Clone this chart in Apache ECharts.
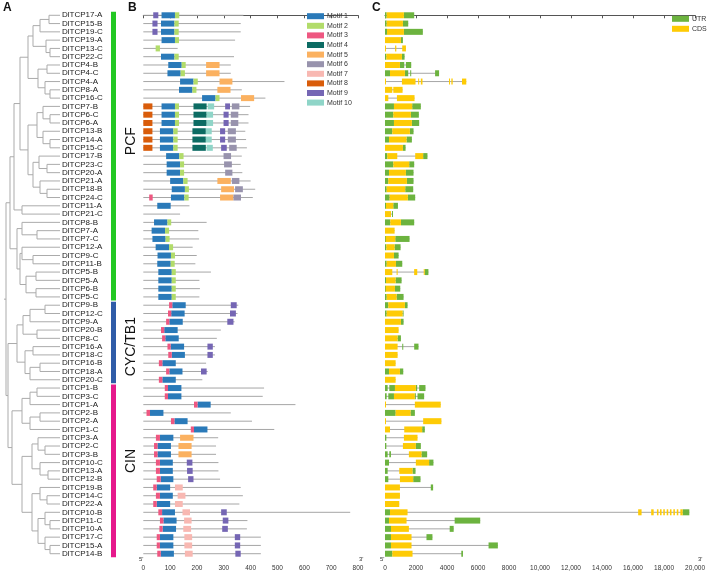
<!DOCTYPE html>
<html>
<head>
<meta charset="utf-8">
<script src="https://cdn.jsdelivr.net/npm/echarts@6/dist/echarts.min.js"></script>
<style>
html,body{margin:0;padding:0;background:#fff;}
#chart{width:708px;height:574px;}
</style>
</head>
<body>
<div id="chart"></div>
<script>
// ---------------- DATA ----------------
const genes = ['DlTCP17-A','DlTCP15-B','DlTCP19-C','DlTCP19-A','DlTCP13-C','DlTCP22-C','DlTCP4-B','DlTCP4-C','DlTCP4-A','DlTCP8-A','DlTCP16-C','DlTCP7-B','DlTCP6-C','DlTCP6-A','DlTCP13-B','DlTCP14-A','DlTCP15-C','DlTCP17-B','DlTCP23-C','DlTCP20-A','DlTCP21-A','DlTCP18-B','DlTCP24-C','DlTCP11-A','DlTCP21-C','DlTCP8-B','DlTCP7-A','DlTCP7-C','DlTCP12-A','DlTCP9-C','DlTCP11-B','DlTCP5-B','DlTCP5-A','DlTCP6-B','DlTCP5-C','DlTCP9-B','DlTCP12-C','DlTCP9-A','DlTCP20-B','DlTCP8-C','DlTCP16-A','DlTCP18-C','DlTCP16-B','DlTCP18-A','DlTCP20-C','DlTCP1-B','DlTCP3-C','DlTCP1-A','DlTCP2-B','DlTCP2-A','DlTCP1-C','DlTCP3-A','DlTCP2-C','DlTCP3-B','DlTCP10-C','DlTCP13-A','DlTCP12-B','DlTCP19-B','DlTCP14-C','DlTCP22-A','DlTCP10-B','DlTCP11-C','DlTCP10-A','DlTCP17-C','DlTCP15-A','DlTCP14-B'];

const groupNames = ['PCF','CYC/TB1','CIN'];
const groupFirstRow = [0,35,45];
const groupLastRow = [34,44,65];
const groupLabelRow = [15.2,40,53.8];

// protein length (aa)
const proteinLength = [373,363,363,342,128,338,326,326,526,367,455,398,392,392,380,383,386,367,363,369,400,417,408,172,137,236,205,208,184,199,194,252,209,211,209,354,351,340,289,274,267,267,234,240,220,450,445,567,326,405,488,279,271,271,280,280,286,363,371,358,771,388,386,438,438,438];

const motifNames = ['Motif 1','Motif 2','Motif 3','Motif 4','Motif 5','Motif 6','Motif 7','Motif 8','Motif 9','Motif 10'];

// motif hits per gene: [motif number, start aa, end aa]
const motifHits = [
 [[9,37,56],[1,68,118],[2,118,134]],
 [[9,34,53],[1,66,116],[2,116,132]],
 [[9,34,53],[1,66,116],[2,116,132]],
 [[1,68,118],[2,118,133]],
 [[2,46,62]],
 [[1,66,116],[2,116,132]],
 [[1,93,143],[2,143,158],[5,234,284]],
 [[1,90,139],[2,139,155],[5,234,284]],
 [[1,137,187],[2,187,203],[5,284,332]],
 [[1,133,183],[2,183,198],[5,276,325]],
 [[1,219,269],[2,269,284],[5,364,413]],
 [[8,0,34],[1,68,118],[2,118,133],[4,187,236],[10,240,264],[9,305,323],[6,330,358]],
 [[8,0,34],[1,68,118],[2,118,133],[4,187,236],[10,236,260],[9,299,318],[6,326,354]],
 [[8,0,34],[1,68,118],[2,118,133],[4,187,236],[10,236,260],[9,299,318],[6,326,354]],
 [[8,0,34],[1,62,112],[2,112,128],[4,183,233],[10,233,255],[9,286,305],[6,315,345]],
 [[8,0,34],[1,62,112],[2,112,128],[4,183,233],[10,233,255],[9,286,305],[6,315,345]],
 [[8,0,34],[1,62,112],[2,112,128],[4,183,233],[10,236,259],[9,290,311],[6,320,348]],
 [[1,85,134],[2,134,150],[6,299,327]],
 [[1,87,137],[2,137,152],[6,301,330]],
 [[1,87,137],[2,137,152],[6,305,332]],
 [[1,100,149],[2,149,165],[5,276,326],[6,330,358]],
 [[1,106,155],[2,155,170],[5,290,338],[6,342,371]],
 [[3,22,35],[1,103,153],[2,153,169],[5,286,336],[6,336,364]],
 [[1,52,102]],
 [],
 [[1,40,90],[2,90,104]],
 [[1,31,81],[2,81,96]],
 [[1,34,83],[2,83,98]],
 [[1,46,96],[2,96,111]],
 [[1,53,103],[2,103,118]],
 [[1,52,102],[2,102,117]],
 [[1,56,106],[2,106,121]],
 [[1,56,106],[2,106,121]],
 [[1,56,106],[2,106,121]],
 [[1,56,106],[2,106,121]],
 [[3,96,108],[1,108,158],[9,326,348]],
 [[3,92,104],[1,104,154],[9,323,345]],
 [[3,85,97],[1,97,147],[9,313,336]],
 [[3,66,78],[1,78,128]],
 [[3,70,82],[1,82,132]],
 [[3,90,102],[1,102,152],[9,239,259]],
 [[3,93,106],[1,106,155],[9,239,259]],
 [[3,58,71],[1,71,121]],
 [[3,85,97],[1,97,146],[9,215,236]],
 [[3,58,71],[1,71,121]],
 [[3,80,92],[1,92,142]],
 [[3,80,92],[1,92,142]],
 [[3,189,202],[1,202,251]],
 [[3,12,25],[1,25,75]],
 [[3,103,116],[1,116,165]],
 [[3,177,189],[1,189,239]],
 [[3,47,62],[1,62,112],[5,137,187]],
 [[3,40,53],[1,53,103],[5,131,180]],
 [[3,40,53],[1,53,103],[5,131,180]],
 [[3,47,62],[1,62,110],[9,162,183]],
 [[3,47,62],[1,62,110],[9,163,184]],
 [[3,50,65],[1,65,112],[9,167,187]],
 [[3,37,50],[1,50,100],[7,118,147]],
 [[3,47,62],[1,62,110],[7,128,157]],
 [[3,37,50],[1,50,100],[7,118,147]],
 [[3,56,70],[1,70,118],[7,146,174],[9,290,311]],
 [[3,62,75],[1,75,124],[7,152,180],[9,296,317]],
 [[3,60,72],[1,72,122],[7,149,178],[9,294,315]],
 [[3,50,62],[1,62,112],[7,153,182],[9,341,361]],
 [[3,50,62],[1,62,112],[7,153,182],[9,341,361]],
 [[3,52,65],[1,65,114],[7,155,184],[9,343,363]]
];

// gene structure per gene: [type (U = UTR, C = CDS), start bp, end bp]
const geneFeatures = [
 [['U',0,107],['C',107,1219],['U',1219,1883]],
 [['U',0,107],['C',107,1155],['U',1155,1498]],
 [['U',0,128],['C',128,1220],['U',1220,2440]],
 [['C',0,1027],['U',1027,1155]],
 [['C',0,50],['C',650,730],['C',1110,1350]],
 [['U',0,86],['C',86,1091],['U',1091,1262]],
 [['C',0,963],['U',963,1241],['U',1348,1690]],
 [['U',0,321],['C',321,1284],['U',1284,1498],['U',1626,1670],['U',3231,3488]],
 [['C',0,43],['C',1091,1969],['C',2140,2204],['C',2311,2418],['C',4130,4194],['C',4280,4366],['C',4965,5243]],
 [['C',0,470],['C',535,1134]],
 [['C',0,214],['C',770,1905]],
 [['U',0,578],['C',578,1755],['U',1755,2311]],
 [['U',0,535],['C',535,1669],['U',1669,2183]],
 [['U',0,578],['C',578,1733],['U',1733,2204]],
 [['U',0,470],['C',470,1605],['U',1605,1840]],
 [['U',0,257],['C',257,1391],['U',1391,1733]],
 [['C',0,1155],['U',1155,1327]],
 [['U',0,150],['C',150,792],['C',1948,2461],['U',2461,2739]],
 [['U',0,535],['C',535,1562],['U',1562,1883]],
 [['U',0,257],['C',257,1348],['U',1348,1840]],
 [['U',0,214],['C',214,1412],['U',1412,1840]],
 [['U',0,107],['C',107,1305],['U',1305,1819]],
 [['U',0,300],['C',300,1476],['U',1476,1947]],
 [['U',0,64],['C',64,535],['U',535,835]],
 [['C',0,385],['U',450,470]],
 [['U',0,342],['C',342,1027],['U',1027,1883]],
 [['C',0,620]],
 [['U',0,43],['C',43,663],['U',663,1584]],
 [['U',0,86],['C',86,620],['U',620,1006]],
 [['C',0,578],['U',578,877]],
 [['U',0,107],['C',107,706],['U',706,1113]],
 [['C',0,470],['C',750,810],['C',1880,2080],['C',2500,2560],['U',2560,2800]],
 [['U',0,64],['C',64,685],['U',685,1070]],
 [['U',0,43],['C',43,642],['U',642,984]],
 [['U',0,107],['C',107,749],['U',749,1198]],
 [['U',0,214],['C',214,1284],['U',1284,1455]],
 [['U',0,107],['C',107,1134],['U',1134,1177]],
 [['C',0,1027],['U',1027,1198]],
 [['C',0,877]],
 [['C',0,813],['U',813,1027]],
 [['C',0,813],['U',1113,1177],['U',1883,2161]],
 [['C',0,813]],
 [['C',0,685]],
 [['U',0,257],['C',257,963],['U',963,1177]],
 [['C',0,685]],
 [['U',0,171],['U',278,642],['C',642,1990],['U',1990,2076],['U',2204,2611]],
 [['U',0,107],['U',214,578],['C',578,1926],['U',1926,1990],['U',2097,2525]],
 [['C',0,25],['C',1926,3595]],
 [['U',0,685],['C',685,1648],['U',1648,1926]],
 [['C',0,25],['C',2461,3638]],
 [['C',0,321],['C',1241,2397],['U',2397,2568]],
 [['U',0,86],['C',1220,2097]],
 [['U',0,86],['C',1156,1990],['U',1990,2311]],
 [['U',0,171],['U',278,385],['C',1541,2354],['U',2354,2718]],
 [['U',0,257],['C',1990,2846],['U',2846,3124]],
 [['U',0,171],['C',920,1776],['U',1776,1969]],
 [['U',0,214],['C',963,1819],['U',1819,2290]],
 [['C',0,963],['U',2953,3103]],
 [['C',0,963]],
 [['C',0,920]],
 [['U',0,321],['C',321,1455],['C',16330,16550],['C',17170,17330],['C',17540,17640],['C',17740,17840],['C',17950,18050],['C',18170,18270],['C',18380,18480],['C',18600,18700],['C',18820,18920],['C',19050,19200],['U',19200,19630]],
 [['U',0,257],['C',257,1391],['U',4494,6141]],
 [['U',0,385],['C',385,1541],['U',4173,4430]],
 [['U',0,385],['C',385,1712],['U',2675,3060]],
 [['U',0,385],['C',385,1712],['U',6680,7280]],
 [['U',0,471],['C',471,1776],['U',4922,5030]]
];

// dendrogram: [node depth, child, child, ...]; leaves are gene codes (prefix DlTCP)
const treeTipDepth = 60;
const tree =
 [6,
  [10,
   [14,
    [20,
     [28,
      [33,[40,[49,'17-A','15-B'],'19-C'],[46,'19-A',[50,'13-C','22-C']]],
      [38,[47,'4-B','4-C'],[45,'4-A',[50,'8-A','16-C']]]],
     [28,
      [37,[43,'7-B',[50,'6-C','6-A']],[43,'13-B',[50,'14-A','15-C']]],
      [33,[39,'17-B',[47,'23-C','20-A']],[40,'21-A',[47,'18-B','24-C']]]]],
    [22,'11-A','21-C']],
   [17,
    [22,'8-B',[37,'7-A','7-C']],
    [20,[22,'12-A',[33,'9-C','11-B']],[26,[36,'5-B','5-A'],[36,'6-B','5-C']]]]],
  [8,
   [17,
    [23,[30,[45,'9-B','12-C'],'9-A'],[37,'20-B','8-C']],
    [25,[33,'16-A','18-C'],[30,[40,'16-B','18-A'],'20-C']]],
   [12,
    [22,[30,[37,'1-B','3-C'],'1-A'],[30,[40,'2-B','2-A'],'1-C']],
    [22,
     [32,[38,'3-A',[45,'2-C','3-B']],[40,'10-C',[48,'13-A','12-B']]],
     [32,[40,'19-B',[47,'14-C','22-A']],
      [38,[45,'10-B',[50,'11-C','10-A']],[45,'17-C',[50,'15-A','14-B']]]]]]]];

// ---------------- STYLE ----------------
const motifColors = ['#2a7ab9','#b2dc6a','#ee5781','#0c6b63','#fbb160','#9893ad','#f8b8b2','#d95c0a','#7566b4','#8fd5c8'];
const utrColor = '#6cb33f', cdsColor = '#fecb05';
const groupColors = ['#22c822','#2f5ca8','#e6198c'];
const lineGray = '#a6a6a6';
const FONT = '"Liberation Sans", Arial, sans-serif';

// ---------------- BUILD ----------------
const N = genes.length;
const rowOf = {};
genes.forEach((g, i) => rowOf[g.replace('DlTCP','')] = i);

const treeSegs = [];
function layout(node) {
  if (typeof node === 'string') return {x: treeTipDepth, y: rowOf[node]};
  const h = node[0];
  const kids = node.slice(1).map(layout);
  const y0 = kids[0].y, y1 = kids[kids.length - 1].y;
  treeSegs.push([h, y0, h, y1]);
  kids.forEach(k => treeSegs.push([h, k.y, k.x, k.y]));
  return {x: h, y: (y0 + y1) / 2};
}
const rootPos = layout(tree);
treeSegs.push([rootPos.x - 2, rootPos.y, rootPos.x, rootPos.y]);

const proteinData = proteinLength.map((L, i) => [0, L, i]);
const motifSeriesData = motifNames.map(() => []);
motifHits.forEach((hits, i) => hits.forEach(h => motifSeriesData[h[0] - 1].push([h[1], h[2], i])));
const intronData = geneFeatures.map((f, i) => [f[0][1], f[f.length - 1][2], i]);
const utrData = [], cdsData = [];
geneFeatures.forEach((f, i) => f.forEach(s => (s[0] === 'U' ? utrData : cdsData).push([s[1], s[2], i])));
const groupData = groupNames.map((g, k) => [groupFirstRow[k], groupLastRow[k], k, groupLabelRow[k]]);

function lineRender(params, api) {
  const a = api.coord([api.value(0), api.value(2)]);
  const b = api.coord([api.value(1), api.value(2)]);
  return {type: 'line', shape: {x1: a[0], y1: a[1], x2: b[0], y2: b[1]},
          style: {stroke: lineGray, lineWidth: 1}};
}
function boxRender(h) {
  return function (params, api) {
    const a = api.coord([api.value(0), api.value(2)]);
    const b = api.coord([api.value(1), api.value(2)]);
    return {type: 'rect', shape: {x: a[0], y: a[1] - h / 2, width: Math.max(b[0] - a[0], 1), height: h},
            style: {fill: api.visual('color')}};
  };
}

const chart = echarts.init(document.getElementById('chart'), null, {renderer: 'canvas', width: 708, height: 574});

const gridTop = 7, gridH = 555;
const series = [];

// tree
series.push({
  type: 'custom', name: 'tree', xAxisIndex: 0, yAxisIndex: 0, silent: true,
  data: treeSegs, encode: {x: [0, 2], y: [1, 3]},
  renderItem(params, api) {
    const a = api.coord([api.value(0), api.value(1)]);
    const b = api.coord([api.value(2), api.value(3)]);
    return {type: 'line', shape: {x1: a[0], y1: a[1], x2: b[0], y2: b[1]},
            style: {stroke: '#ababab', lineWidth: 1}};
  }
});
// gene labels
series.push({
  type: 'custom', name: 'labels', xAxisIndex: 0, yAxisIndex: 0, silent: true,
  data: genes.map((g, i) => [treeTipDepth, i]), encode: {x: 0, y: 1},
  renderItem(params, api) {
    const p = api.coord([api.value(0), api.value(1)]);
    return {type: 'text', x: p[0] + 2, y: p[1],
            style: {text: genes[params.dataIndex], fill: '#1a1a1a', font: '8px ' + FONT,
                    align: 'left', verticalAlign: 'middle'}};
  }
});
// group bars & labels
series.push({
  type: 'custom', name: 'groups', xAxisIndex: 0, yAxisIndex: 0, silent: true,
  data: groupData, encode: {y: [0, 1]},
  renderItem(params, api) {
    const k = api.value(2);
    const a = api.coord([111, api.value(0) - 0.42]);
    const b = api.coord([116, api.value(1) + 0.42]);
    const t = api.coord([131, api.value(3)]);
    return {type: 'group', children: [
      {type: 'rect', shape: {x: a[0], y: a[1], width: b[0] - a[0], height: b[1] - a[1]},
       style: {fill: groupColors[k]}},
      {type: 'text', x: t[0], y: t[1], rotation: Math.PI / 2,
       style: {text: groupNames[k], fill: '#111', font: '14px ' + FONT, align: 'center', verticalAlign: 'middle'}}
    ]};
  }
});
// protein lines
series.push({
  type: 'custom', name: 'protein', xAxisIndex: 1, yAxisIndex: 1, silent: true,
  data: proteinData, encode: {x: [0, 1], y: 2}, renderItem: lineRender
});
motifNames.forEach((m, k) => {
  series.push({
    type: 'custom', name: m, xAxisIndex: 1, yAxisIndex: 1, silent: true,
    itemStyle: {color: motifColors[k]},
    data: motifSeriesData[k], encode: {x: [0, 1], y: 2}, renderItem: boxRender(6)
  });
});
// gene structure
series.push({
  type: 'custom', name: 'intron', xAxisIndex: 2, yAxisIndex: 2, silent: true,
  data: intronData, encode: {x: [0, 1], y: 2}, renderItem: lineRender
});
series.push({
  type: 'custom', name: 'UTR', xAxisIndex: 2, yAxisIndex: 2, silent: true,
  itemStyle: {color: utrColor}, data: utrData, encode: {x: [0, 1], y: 2}, renderItem: boxRender(6)
});
series.push({
  type: 'custom', name: 'CDS', xAxisIndex: 2, yAxisIndex: 2, silent: true,
  itemStyle: {color: cdsColor}, data: cdsData, encode: {x: [0, 1], y: 2}, renderItem: boxRender(6)
});

const yBase = {type: 'value', min: -1, max: N, inverse: true, show: false};
const axisCommon = {
  axisLine: {show: true, lineStyle: {color: '#555', width: 1}},
  axisTick: {show: true, length: 3, lineStyle: {color: '#555'}},
  axisLabel: {fontSize: 6.5, color: '#333', margin: 3, fontFamily: FONT},
  splitLine: {show: false}
};

const option = {
  backgroundColor: '#fff',
  animation: false,
  grid: [
    {left: 0, top: gridTop, width: 140, height: gridH},
    {left: 143.3, top: gridTop, width: 214.7, height: gridH},
    {left: 385, top: gridTop, width: 311.7, height: gridH}
  ],
  xAxis: [
    {type: 'value', gridIndex: 0, min: 0, max: 140, show: false},
    Object.assign({type: 'value', gridIndex: 1, min: 0, max: 800, interval: 100}, axisCommon),
    Object.assign({type: 'value', gridIndex: 2, min: 0, max: 20000, interval: 2000}, axisCommon,
      {axisLabel: Object.assign({}, axisCommon.axisLabel, {
        formatter: v => v >= 10000 ? v.toLocaleString('en-US') : String(v)})})
  ],
  yAxis: [
    Object.assign({gridIndex: 0}, yBase),
    Object.assign({gridIndex: 1}, yBase),
    Object.assign({gridIndex: 2}, yBase)
  ],
  legend: [
    {data: motifNames, orient: 'vertical', left: 307, top: 12.7, padding: 0,
     itemWidth: 17, itemHeight: 6, itemGap: 2.6, icon: 'rect', selectedMode: false,
     textStyle: {fontSize: 7, color: '#333', fontFamily: FONT, lineHeight: 6, padding: [0, 0, 0, -2]}},
    {data: ['UTR', 'CDS'], orient: 'vertical', left: 672, top: 15.3, padding: 0,
     itemWidth: 17, itemHeight: 6, itemGap: 3, icon: 'rect', selectedMode: false,
     textStyle: {fontSize: 7, color: '#333', fontFamily: FONT, lineHeight: 6, padding: [0, 0, 0, -2]}}
  ],
  graphic: [
    {type: 'text', left: 3, top: 2, style: {text: 'A', font: 'bold 12px ' + FONT, fill: '#111'}},
    {type: 'text', left: 128, top: 2, style: {text: 'B', font: 'bold 12px ' + FONT, fill: '#111'}},
    {type: 'text', left: 372, top: 2, style: {text: 'C', font: 'bold 12px ' + FONT, fill: '#111'}},
    {type: 'text', left: 139, top: 556, style: {text: "5'", font: '6px ' + FONT, fill: '#333'}},
    {type: 'text', left: 359, top: 556, style: {text: "3'", font: '6px ' + FONT, fill: '#333'}},
    {type: 'text', left: 380, top: 556, style: {text: "5'", font: '6px ' + FONT, fill: '#333'}},
    {type: 'text', left: 698, top: 556, style: {text: "3'", font: '6px ' + FONT, fill: '#333'}}
  ],
  series: series
};
chart.setOption(option);
</script>
</body>
</html>
